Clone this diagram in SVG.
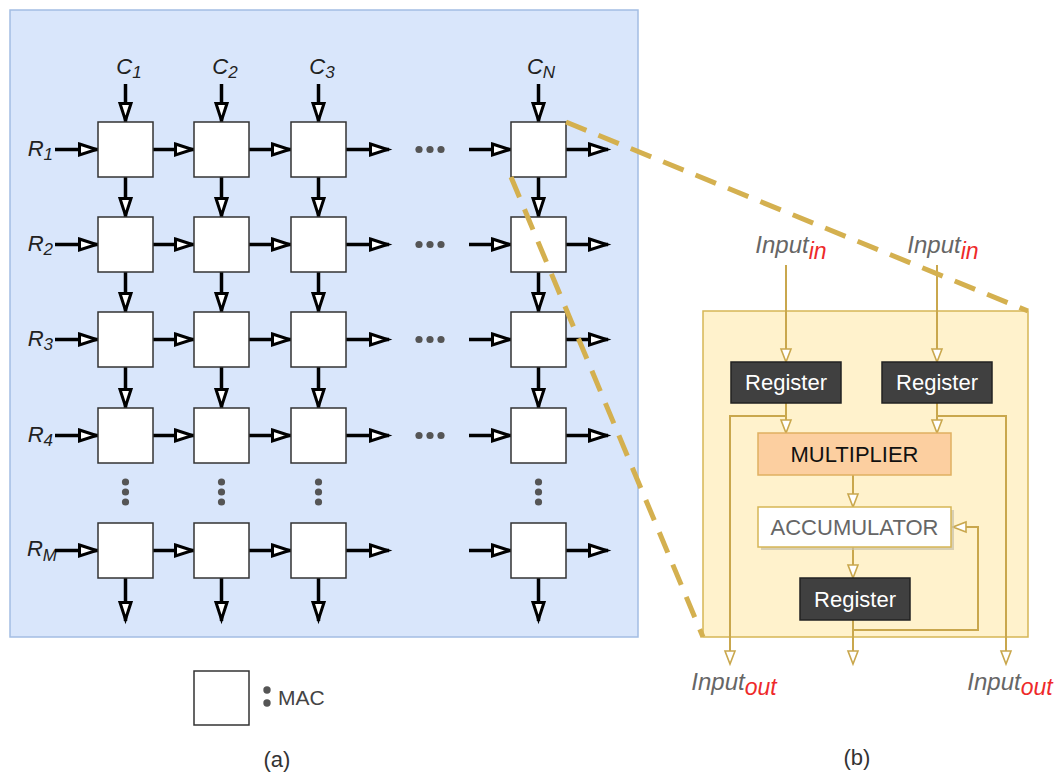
<svg xmlns="http://www.w3.org/2000/svg" width="1060" height="776" viewBox="0 0 1060 776">
<style>
.mac{fill:#fff;stroke:#333;stroke-width:1.5}
.blk{stroke:#000;stroke-width:3.5;fill:none;marker-end:url(#ah)}
.gl{stroke:#c9a74d;stroke-width:2;fill:none}
.ga{marker-end:url(#gh)}
.dot{fill:#555}
.lab{font-family:"Liberation Sans",Arial,sans-serif;font-style:italic;font-size:22px;fill:#222}
.sub{font-size:17px}
.reg{fill:#404040;stroke:#222;stroke-width:1.5}
.regt{font-family:"Liberation Sans",Arial,sans-serif;font-size:22px;fill:#fff;text-anchor:middle}
.inp{font-family:"Liberation Sans",Arial,sans-serif;font-style:italic;font-size:24px;fill:#666;text-anchor:middle}
.red{fill:#ee2a2a;font-size:23px}
.cap{font-family:"Liberation Sans",Arial,sans-serif;font-size:22px;fill:#333;text-anchor:middle}
.dash{stroke:#d4b04f;stroke-width:5;stroke-dasharray:22 13;fill:none}
</style>
<defs>
<marker id="ah" markerUnits="userSpaceOnUse" markerWidth="26" markerHeight="20" viewBox="-2 -10 26 20" refX="18.5" refY="0" orient="auto" overflow="visible">
<path d="M0,-5.5 L17,0 L0,5.5 Z" fill="#fff" stroke="#000" stroke-width="3"/>
</marker>
<marker id="gh" markerUnits="userSpaceOnUse" markerWidth="16" markerHeight="14" viewBox="-1 -7 16 14" refX="13" refY="0" orient="auto" overflow="visible">
<path d="M0,-5 L13,0 L0,5 Z" fill="#fff" stroke="#c9a74d" stroke-width="1.6"/>
</marker>
</defs>
<rect width="1060" height="776" fill="#fff"/>

<!-- panel (a) -->
<g id="panel-a">
<rect x="10" y="10" width="628" height="627" fill="#d9e6fb" stroke="#a3bde3" stroke-width="1.5"/>
</g>

<g id="labels-a">
<text class="lab" x="129" y="74" text-anchor="middle">C<tspan class="sub" dy="4">1</tspan></text>
<text class="lab" x="225" y="74" text-anchor="middle">C<tspan class="sub" dy="4">2</tspan></text>
<text class="lab" x="322" y="74" text-anchor="middle">C<tspan class="sub" dy="4">3</tspan></text>
<text class="lab" x="541" y="74" text-anchor="middle">C<tspan class="sub" dy="4">N</tspan></text>
<text class="lab" x="53" y="156" text-anchor="end">R<tspan class="sub" dy="4">1</tspan></text>
<text class="lab" x="53" y="251" text-anchor="end">R<tspan class="sub" dy="4">2</tspan></text>
<text class="lab" x="53" y="346" text-anchor="end">R<tspan class="sub" dy="4">3</tspan></text>
<text class="lab" x="53" y="442" text-anchor="end">R<tspan class="sub" dy="4">4</tspan></text>
<text class="lab" x="57" y="556" text-anchor="end">R<tspan class="sub" dy="5">M</tspan></text>
</g>

<g id="connectors-a">
<line class="blk" x1="125.5" y1="84" x2="125.5" y2="122"/>
<line class="blk" x1="221.5" y1="84" x2="221.5" y2="122"/>
<line class="blk" x1="318.5" y1="84" x2="318.5" y2="122"/>
<line class="blk" x1="538.5" y1="84" x2="538.5" y2="122"/>
<line class="blk" x1="125.5" y1="177" x2="125.5" y2="217"/>
<line class="blk" x1="221.5" y1="177" x2="221.5" y2="217"/>
<line class="blk" x1="318.5" y1="177" x2="318.5" y2="217"/>
<line class="blk" x1="538.5" y1="177" x2="538.5" y2="217"/>
<line class="blk" x1="125.5" y1="272" x2="125.5" y2="312"/>
<line class="blk" x1="221.5" y1="272" x2="221.5" y2="312"/>
<line class="blk" x1="318.5" y1="272" x2="318.5" y2="312"/>
<line class="blk" x1="538.5" y1="272" x2="538.5" y2="312"/>
<line class="blk" x1="125.5" y1="367" x2="125.5" y2="408"/>
<line class="blk" x1="221.5" y1="367" x2="221.5" y2="408"/>
<line class="blk" x1="318.5" y1="367" x2="318.5" y2="408"/>
<line class="blk" x1="538.5" y1="367" x2="538.5" y2="408"/>
<line class="blk" x1="125.5" y1="578" x2="125.5" y2="621"/>
<line class="blk" x1="221.5" y1="578" x2="221.5" y2="621"/>
<line class="blk" x1="318.5" y1="578" x2="318.5" y2="621"/>
<line class="blk" x1="538.5" y1="578" x2="538.5" y2="621"/>
<g id="row1-h">
<line class="blk" x1="55" y1="149.5" x2="98" y2="149.5"/>
<line class="blk" x1="153" y1="149.5" x2="194" y2="149.5"/>
<line class="blk" x1="249" y1="149.5" x2="291" y2="149.5"/>
<line class="blk" x1="346" y1="149.5" x2="389" y2="149.5"/>
<line class="blk" x1="469" y1="149.5" x2="511" y2="149.5"/>
<line class="blk" x1="566" y1="149.5" x2="608" y2="149.5"/>
</g>
<g id="row2-h">
<line class="blk" x1="55" y1="244.5" x2="98" y2="244.5"/>
<line class="blk" x1="153" y1="244.5" x2="194" y2="244.5"/>
<line class="blk" x1="249" y1="244.5" x2="291" y2="244.5"/>
<line class="blk" x1="346" y1="244.5" x2="389" y2="244.5"/>
<line class="blk" x1="469" y1="244.5" x2="511" y2="244.5"/>
<line class="blk" x1="566" y1="244.5" x2="608" y2="244.5"/>
</g>
<g id="row3-h">
<line class="blk" x1="55" y1="339.5" x2="98" y2="339.5"/>
<line class="blk" x1="153" y1="339.5" x2="194" y2="339.5"/>
<line class="blk" x1="249" y1="339.5" x2="291" y2="339.5"/>
<line class="blk" x1="346" y1="339.5" x2="389" y2="339.5"/>
<line class="blk" x1="469" y1="339.5" x2="511" y2="339.5"/>
<line class="blk" x1="566" y1="339.5" x2="608" y2="339.5"/>
</g>
<g id="row4-h">
<line class="blk" x1="55" y1="435.5" x2="98" y2="435.5"/>
<line class="blk" x1="153" y1="435.5" x2="194" y2="435.5"/>
<line class="blk" x1="249" y1="435.5" x2="291" y2="435.5"/>
<line class="blk" x1="346" y1="435.5" x2="389" y2="435.5"/>
<line class="blk" x1="469" y1="435.5" x2="511" y2="435.5"/>
<line class="blk" x1="566" y1="435.5" x2="608" y2="435.5"/>
</g>
<g id="rowM-h">
<line class="blk" x1="55" y1="550.5" x2="98" y2="550.5"/>
<line class="blk" x1="153" y1="550.5" x2="194" y2="550.5"/>
<line class="blk" x1="249" y1="550.5" x2="291" y2="550.5"/>
<line class="blk" x1="346" y1="550.5" x2="389" y2="550.5"/>
<line class="blk" x1="469" y1="550.5" x2="511" y2="550.5"/>
<line class="blk" x1="566" y1="550.5" x2="608" y2="550.5"/>
</g>
</g>

<g id="dots">
<circle class="dot" cx="419" cy="149.5" r="3.6"/><circle class="dot" cx="430" cy="149.5" r="3.6"/><circle class="dot" cx="441" cy="149.5" r="3.6"/>
<circle class="dot" cx="419" cy="244.5" r="3.6"/><circle class="dot" cx="430" cy="244.5" r="3.6"/><circle class="dot" cx="441" cy="244.5" r="3.6"/>
<circle class="dot" cx="419" cy="339.5" r="3.6"/><circle class="dot" cx="430" cy="339.5" r="3.6"/><circle class="dot" cx="441" cy="339.5" r="3.6"/>
<circle class="dot" cx="419" cy="435.5" r="3.6"/><circle class="dot" cx="430" cy="435.5" r="3.6"/><circle class="dot" cx="441" cy="435.5" r="3.6"/>
<circle class="dot" cx="125.5" cy="482" r="3.6"/><circle class="dot" cx="125.5" cy="492" r="3.6"/><circle class="dot" cx="125.5" cy="502" r="3.6"/>
<circle class="dot" cx="221.5" cy="482" r="3.6"/><circle class="dot" cx="221.5" cy="492" r="3.6"/><circle class="dot" cx="221.5" cy="502" r="3.6"/>
<circle class="dot" cx="318.5" cy="482" r="3.6"/><circle class="dot" cx="318.5" cy="492" r="3.6"/><circle class="dot" cx="318.5" cy="502" r="3.6"/>
<circle class="dot" cx="538.5" cy="482" r="3.6"/><circle class="dot" cx="538.5" cy="492" r="3.6"/><circle class="dot" cx="538.5" cy="502" r="3.6"/>
</g>

<g id="macs">
<g id="mac-r1-c1"><rect class="mac" x="98" y="122" width="55" height="55"/></g>
<g id="mac-r1-c2"><rect class="mac" x="194" y="122" width="55" height="55"/></g>
<g id="mac-r1-c3"><rect class="mac" x="291" y="122" width="55" height="55"/></g>
<g id="mac-r1-cN"><rect class="mac" x="511" y="122" width="55" height="55"/></g>
<g id="mac-r2-c1"><rect class="mac" x="98" y="217" width="55" height="55"/></g>
<g id="mac-r2-c2"><rect class="mac" x="194" y="217" width="55" height="55"/></g>
<g id="mac-r2-c3"><rect class="mac" x="291" y="217" width="55" height="55"/></g>
<g id="mac-r2-cN"><rect class="mac" x="511" y="217" width="55" height="55"/></g>
<g id="mac-r3-c1"><rect class="mac" x="98" y="312" width="55" height="55"/></g>
<g id="mac-r3-c2"><rect class="mac" x="194" y="312" width="55" height="55"/></g>
<g id="mac-r3-c3"><rect class="mac" x="291" y="312" width="55" height="55"/></g>
<g id="mac-r3-cN"><rect class="mac" x="511" y="312" width="55" height="55"/></g>
<g id="mac-r4-c1"><rect class="mac" x="98" y="408" width="55" height="55"/></g>
<g id="mac-r4-c2"><rect class="mac" x="194" y="408" width="55" height="55"/></g>
<g id="mac-r4-c3"><rect class="mac" x="291" y="408" width="55" height="55"/></g>
<g id="mac-r4-cN"><rect class="mac" x="511" y="408" width="55" height="55"/></g>
<g id="mac-rM-c1"><rect class="mac" x="98" y="523" width="55" height="55"/></g>
<g id="mac-rM-c2"><rect class="mac" x="194" y="523" width="55" height="55"/></g>
<g id="mac-rM-c3"><rect class="mac" x="291" y="523" width="55" height="55"/></g>
<g id="mac-rM-cN"><rect class="mac" x="511" y="523" width="55" height="55"/></g>
</g>

<g id="legend">
<rect class="mac" x="194" y="671" width="55" height="54"/>
<circle class="dot" cx="267" cy="690" r="3.7"/>
<circle class="dot" cx="267" cy="703" r="3.7"/>
<text x="278" y="705" font-family="Liberation Sans, Arial, sans-serif" font-size="21" fill="#444">MAC</text>
<text class="cap" x="277" y="767">(a)</text>
</g>

<!-- panel (b) -->
<g id="panel-b">
<rect x="703" y="311" width="325" height="326" fill="#fff2cc" stroke="#d6b656" stroke-width="1.5"/>
</g>

<g id="connectors-b">
<line class="gl ga" x1="786" y1="265" x2="786" y2="362"/>
<line class="gl ga" x1="937" y1="265" x2="937" y2="362"/>
<line class="gl ga" x1="786" y1="403" x2="786" y2="433"/>
<line class="gl ga" x1="937" y1="403" x2="937" y2="433"/>
<polyline class="gl ga" points="786,416 730,416 730,664"/>
<polyline class="gl ga" points="937,416 1006,416 1006,664"/>
<line class="gl ga" x1="853" y1="475" x2="853" y2="507"/>
<line class="gl ga" x1="853" y1="547" x2="853" y2="578"/>
<line class="gl ga" x1="853" y1="620" x2="853" y2="664"/>
<polyline class="gl ga" points="853,630 978,630 978,527 953,527"/>
</g>

<g id="input-labels">
<text class="inp" x="791" y="253">Input<tspan class="red" dy="6">in</tspan></text>
<text class="inp" x="943" y="253">Input<tspan class="red" dy="6">in</tspan></text>
<text class="inp" x="734" y="690">Input<tspan class="red" dy="5">out</tspan></text>
<text class="inp" x="1010" y="690">Input<tspan class="red" dy="5">out</tspan></text>
</g>

<g id="register-1"><rect class="reg" x="731" y="362" width="110" height="41"/><text class="regt" x="786" y="390">Register</text></g>
<g id="register-2"><rect class="reg" x="882" y="362" width="110" height="41"/><text class="regt" x="937" y="390">Register</text></g>
<g id="multiplier"><rect x="758" y="433" width="193" height="42" fill="#fccfa0" stroke="#e0b060" stroke-width="1.5"/><text x="854.5" y="462" font-family="Liberation Sans, Arial, sans-serif" font-size="22" fill="#111" text-anchor="middle">MULTIPLIER</text></g>
<g id="accumulator"><rect x="761" y="510" width="193" height="40" fill="#c8c0a8" opacity="0.7"/><rect x="758" y="507" width="193" height="40" fill="#fff" stroke="#d6b656" stroke-width="1.5"/><text x="854.5" y="535" font-family="Liberation Sans, Arial, sans-serif" font-size="22" fill="#666" text-anchor="middle">ACCUMULATOR</text></g>
<g id="register-3"><rect class="reg" x="800" y="578" width="110" height="42"/><text class="regt" x="855" y="607">Register</text></g>

<text class="cap" x="857" y="765">(b)</text>

<g id="zoom-lines">
<line class="dash" x1="566" y1="122" x2="1028" y2="311"/>
<line class="dash" x1="511" y1="177" x2="703" y2="637"/>
</g>
</svg>
